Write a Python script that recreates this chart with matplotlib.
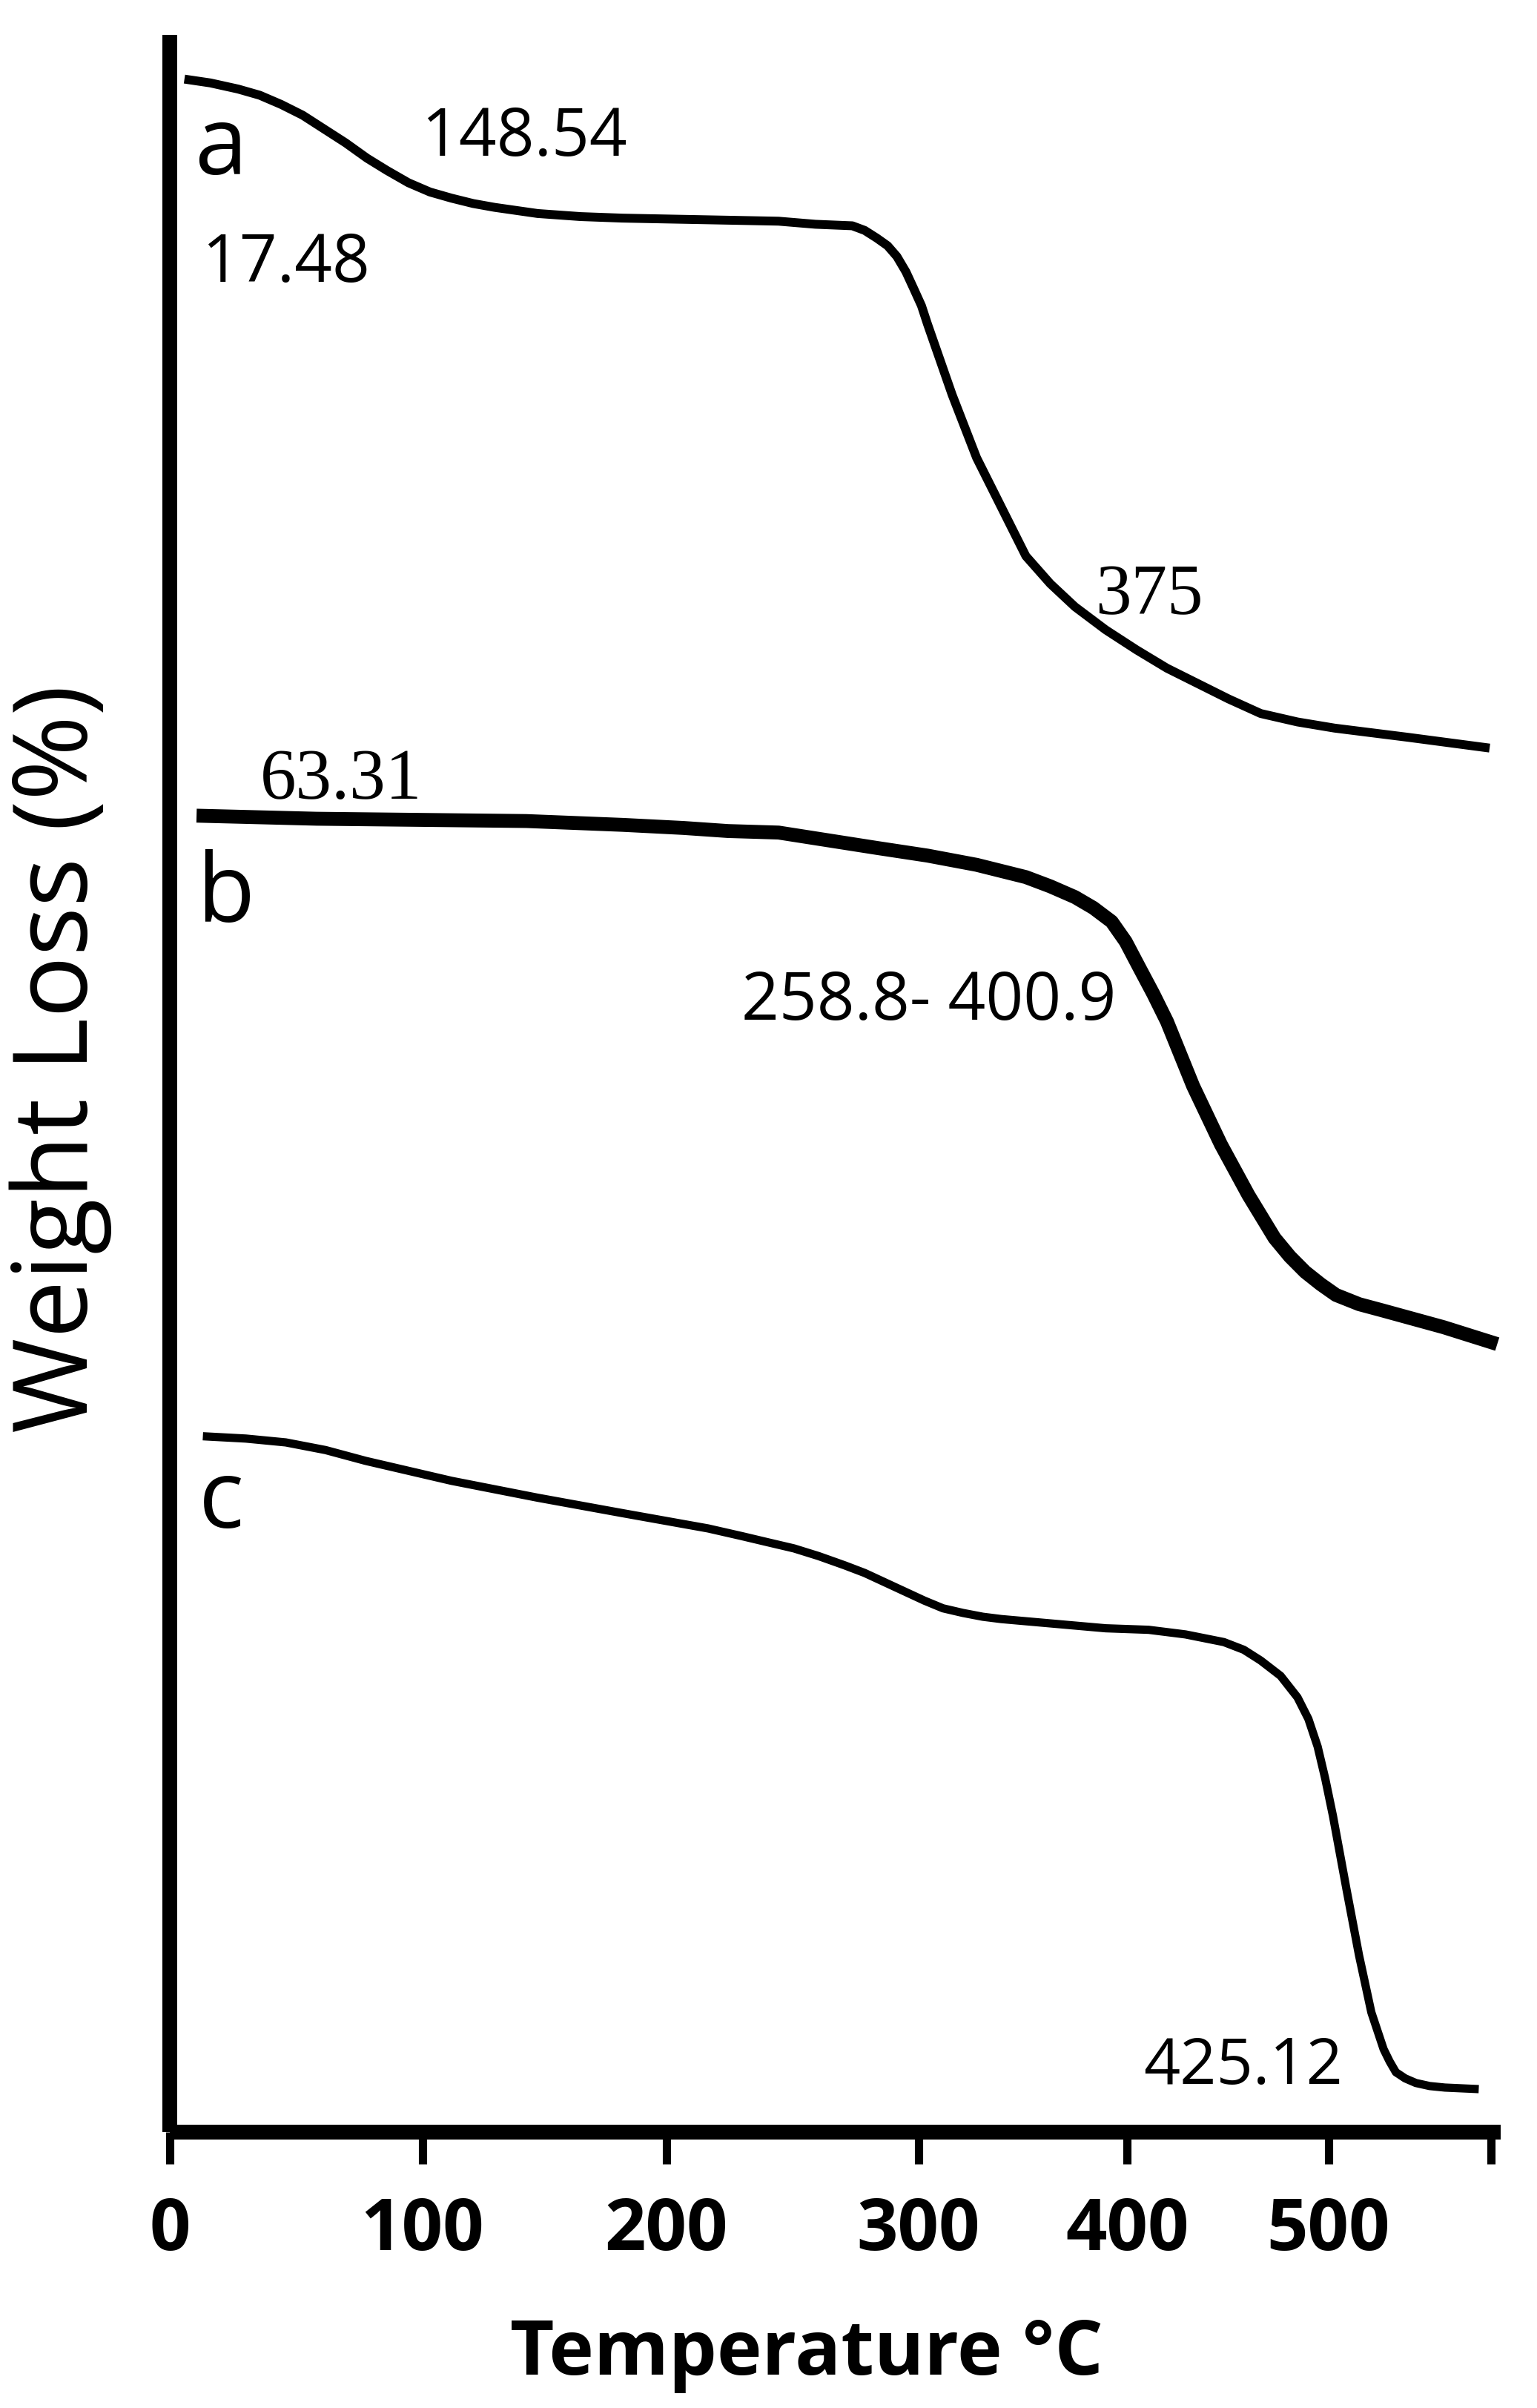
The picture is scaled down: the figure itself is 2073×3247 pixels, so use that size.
import numpy as np
import matplotlib
matplotlib.use("Agg")
import matplotlib.pyplot as plt

# ---------------- data (temperature in degC, weight signal in arbitrary units) ----------------
temp_a = [5.8, 16.1, 27.1, 35.6, 44.1, 52.6, 61.1, 69.6, 78.1, 86.0, 94.5, 103.1, 111.9, 120.8,
          129.6, 138.4, 147.2, 164.8, 181.8, 213.4, 244.5, 259.1, 273.8, 278.7, 283.5, 287.8,
          291.5, 295.1, 298.2, 301.5, 304.4, 316.2, 327.9, 339.7, 351.5, 363.2, 375.0, 389.7,
          404.6, 419.8, 435.1, 450.4, 466.4, 484.7, 503.1, 539.7, 580.2]
weight_a = [1336.5, 1334, 1330, 1326, 1320, 1313, 1304, 1295, 1285, 1277, 1269, 1263, 1259, 1255.5,
            1253, 1251, 1249, 1247, 1246, 1245, 1244, 1242, 1241, 1238, 1233, 1228,
            1221, 1211, 1200, 1189, 1177, 1131, 1090, 1058, 1026, 1008, 993, 978,
            965, 953, 943, 933, 923.5, 918, 914, 908, 901]

temp_b = [10.6, 58.1, 142.6, 182.2, 206.7, 224.4, 244.5, 264.0, 283.5, 304.4, 327.9, 351.5,
          363.2, 375.0, 383.8, 392.6, 399.3, 406.1, 413.0, 419.8, 432.8, 446.6, 460.3, 473.3,
          480.9, 488.5, 496.2, 503.8, 515.3, 526.7, 557.3, 584.0]
weight_b = [857, 855, 853.5, 851, 849, 847, 846, 841, 836, 831, 825, 817,
            811, 804, 797, 788, 775, 758, 741, 723, 681, 643, 610, 582,
            570, 560, 552, 545, 539, 535, 524, 513]

temp_c = [13.1, 30.1, 45.9, 61.7, 77.5, 111.9, 147.2, 181.8, 216.5, 229.9, 240.2, 250.6, 260.4,
          270.7, 278.7, 286.6, 294.5, 302.9, 311.8, 321.3, 330.9, 339.7, 364.7, 389.7, 410.7,
          429.0, 448.1, 458.0, 466.4, 476.3, 484.7, 490.1, 494.7, 498.5, 502.3, 509.2, 515.3,
          521.4, 527.5, 530.5, 533.6, 538.2, 543.5, 550.4, 558.0, 574.8]
weight_c = [453, 451.5, 449, 444, 437, 424, 413, 403, 393, 388, 384, 380, 375,
            369, 364, 358, 352, 346, 341, 338, 335.5, 334, 331, 328, 327,
            324, 319, 314, 307, 297, 283, 269, 251, 230, 206, 157, 115,
            78, 54, 46, 39, 35, 32, 30, 29, 28]

curve_labels = ["a", "b", "c"]
annotations = ["148.54", "17.48", "375", "63.31", "258.8- 400.9", "425.12"]

tick_values = [0, 100, 200, 300, 400, 500]
tick_labels = ["0", "100", "200", "300", "400", "500"]
end_tick = 581

# hand-drawn (non-uniform) temperature axis calibration
axis_T = [-200, 0, 100, 200, 300, 400, 500, 800]
axis_pos = [-329.0, 0.0, 164.5, 323.5, 487.5, 623.5, 754.5, 1147.5]


def fwd(t):
    return np.interp(t, axis_T, axis_pos)


def inv(p):
    return np.interp(p, axis_pos, axis_T)


# ---------------- figure ----------------
W, H = 2073, 3247
fig = plt.figure(figsize=(W / 100, H / 100), dpi=100)
ax = fig.add_axes([229 / W, 1 - 2875 / H, (2024 - 229) / W, (2875 - 47) / H])
ax.set_xscale("function", functions=(fwd, inv))

line_kw = dict(color="black", solid_capstyle="butt", solid_joinstyle="round")
ax.plot(temp_a, weight_a, lw=8.6, **line_kw)
ax.plot(temp_b, weight_b, lw=13.5, **line_kw)
ax.plot(temp_c, weight_c, lw=8.0, **line_kw)

ax.set_xlim(0, 585.7)
ax.set_ylim(0, 1365.3)

for s in ["top", "right"]:
    ax.spines[s].set_visible(False)
for s in ["left", "bottom"]:
    ax.spines[s].set_linewidth(14.4)
    ax.spines[s].set_capstyle("butt")

ax.set_xticks(tick_values + [end_tick])
ax.set_xticklabels(tick_labels + [""])
ax.tick_params(axis="x", direction="out", length=31, width=8, pad=30,
               labelsize=70)
for lab in ax.get_xticklabels():
    lab.set_fontfamily("Open Sans")
    lab.set_fontweight("bold")
ax.set_yticks([])

ax.set_xlabel("Temperature °C", fontfamily="Open Sans", fontweight="bold", fontsize=74)
ax.xaxis.set_label_coords((1088 - 229) / 1795, (2875 - 3202) / 2828)
ax.xaxis.label.set_va("baseline")

ax.set_ylabel("Weight Loss (%)", fontfamily="Open Sans", fontsize=100)
ax.yaxis.set_label_coords((118 - 229) / 1795, (2875 - 1428) / 2828)
ax.yaxis.label.set_va("baseline")


def ftext(x, y, s, **kw):
    fig.text(x / W, 1 - y / H, s, ha="left", va="baseline", **kw)


sans = dict(fontfamily="Open Sans", color="black")
serif = dict(fontfamily="Liberation Serif", color="black")

ftext(262, 235, curve_labels[0], fontsize=92, **sans)
ftext(265, 1243, curve_labels[1], fontsize=92, **sans)
ftext(268, 2060, curve_labels[2], fontsize=92, **sans)

ftext(569, 210, annotations[0], fontsize=64, **sans)
ftext(273, 380, annotations[1], fontsize=64, **sans)
ftext(1477, 828, annotations[2], fontsize=70, **serif)
ftext(351, 1077, annotations[3], fontsize=70, **serif)
ftext(1000, 1375, annotations[4], fontsize=64, **sans)
ftext(1542, 2810, annotations[5], fontsize=62, **sans)

fig.savefig("out.png", dpi=100, facecolor="white")
